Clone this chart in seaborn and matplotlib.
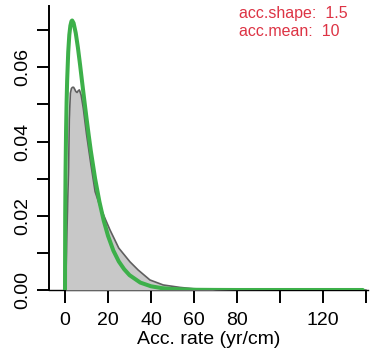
import matplotlib
matplotlib.use("Agg")
import matplotlib.pyplot as plt
import seaborn as sns

# Posterior accumulation-rate density (grey area)
post_x = [0, 0.3, 0.6, 1.0, 1.4, 1.7, 2.0, 2.5, 3.0, 3.5, 4.0, 4.5, 5.0, 5.6, 6.2, 6.7,
          7.5, 8.5, 10, 12, 14, 16.3, 18.6, 20.9, 25, 30.2, 34, 39.5, 45.7, 53.5, 59.5,
          70, 80, 100, 140]
post_y = [0, 0.0, 0.008, 0.018, 0.027, 0.033, 0.046, 0.053, 0.0543, 0.0546, 0.0546,
          0.0541, 0.0535, 0.0532, 0.0537, 0.0539, 0.0525, 0.049, 0.042, 0.034, 0.0265,
          0.0225, 0.0193, 0.0162, 0.0113, 0.0076, 0.0054, 0.0027, 0.00135, 0.0007,
          0.00035, 0.0001, 0.00003, 0, 0]

# Prior accumulation-rate density (green line)
prior_x = [0, 0.1, 0.25, 0.5, 0.75, 1, 1.5, 2, 2.5, 3, 3.33, 4, 5, 6, 7, 8, 9, 10, 11,
           12, 14, 16, 18, 20, 22.5, 25, 27.5, 30, 35, 40, 45, 50, 60, 70, 80, 100, 120,
           138.5]
prior_y = [0, 0.0204, 0.0316, 0.0430, 0.0507, 0.0564, 0.0641, 0.0687, 0.0712, 0.0724,
           0.0726, 0.0719, 0.0692, 0.0653, 0.0607, 0.0558, 0.0510, 0.0463, 0.0418,
           0.0375, 0.0300, 0.0238, 0.0187, 0.0146, 0.0106, 0.0077, 0.0056, 0.0040,
           0.0020, 0.0010, 0.0005, 0.00026, 0.00006, 0.00002, 0, 0, 0, 0]

x_ticks = [0, 20, 40, 60, 80, 100, 120, 140]
x_tick_labels = ["0", "20", "40", "60", "80", "", "120", ""]
y_ticks = [0.00, 0.01, 0.02, 0.03, 0.04, 0.05, 0.06, 0.07]
y_tick_labels = ["0.00", "", "0.02", "", "0.04", "", "0.06", ""]

acc_shape = 1.5
acc_mean = 10

sns.set_style("ticks")
plt.rcParams["font.family"] = ["Liberation Sans", "DejaVu Sans"]
plt.rcParams["text.color"] = "black"
plt.rcParams["axes.labelcolor"] = "black"
plt.rcParams["xtick.color"] = "black"
plt.rcParams["ytick.color"] = "black"

fig = plt.figure(figsize=(3.71, 3.58), dpi=100)
ax = fig.add_axes([49 / 371, 68 / 358, 319 / 371, 284 / 358])

ax.fill_between(post_x, post_y, color="#c8c8c8", lw=0, zorder=1)
sns.lineplot(x=post_x, y=post_y, color="#5f5f5f", lw=1.2, ax=ax, sort=False,
             estimator=None, zorder=2)
sns.lineplot(x=prior_x, y=prior_y, color="#3db04a", lw=2.9, ax=ax, sort=False,
             estimator=None, zorder=3, solid_capstyle="round")

ax.set_xlim(-7.44, 140.9)
ax.set_ylim(0, 0.0765)

for side in ("top", "right"):
    ax.spines[side].set_visible(False)
ax.spines["left"].set_color("black")
ax.spines["left"].set_linewidth(1.4)
ax.spines["bottom"].set_color("black")
ax.spines["bottom"].set_linewidth(1.0)
ax.spines["bottom"].set_zorder(0.5)

ax.set_xticks(x_ticks)
ax.set_xticklabels(x_tick_labels)
ax.set_yticks(y_ticks)
ax.set_yticklabels(y_tick_labels, rotation=90, va="center")
ax.tick_params(axis="both", direction="out", length=9, width=1.4, labelsize=14)
ax.tick_params(axis="x", pad=7)
ax.tick_params(axis="y", pad=3.6)

ax.set_xlabel("Acc. rate (yr/cm)", fontsize=14, labelpad=1)
ax.set_ylabel("")

fig.text(239 / 371, 1 - 6 / 358,
         f"acc.shape:  {acc_shape}\nacc.mean:  {acc_mean}",
         color="#dd3344", fontsize=11.5, va="top", ha="left", linespacing=1.25)

fig.savefig("out.png", dpi=100)
